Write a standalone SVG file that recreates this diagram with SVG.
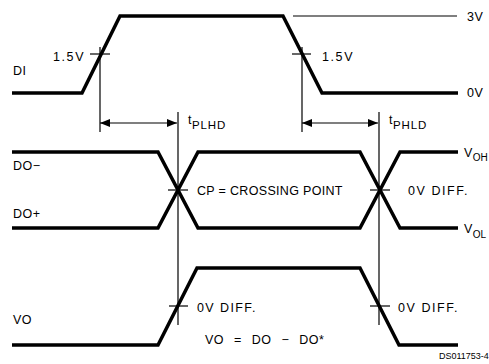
<svg xmlns="http://www.w3.org/2000/svg" width="489" height="364" viewBox="0 0 489 364">
<defs>
<marker id="ah" viewBox="0 0 10 8" refX="10" refY="4" markerWidth="10" markerHeight="8" markerUnits="userSpaceOnUse" orient="auto-start-reverse">
<path d="M0,0 L10,4 L0,8 Z" fill="#000"/>
</marker>
</defs>
<style>
.wave{fill:none;stroke:#000;stroke-width:3.5;stroke-linejoin:miter}
.thin{fill:none;stroke:#000;stroke-width:1.2}
.arr{fill:none;stroke:#000;stroke-width:1.2;marker-start:url(#ah);marker-end:url(#ah)}
text{font-family:"Liberation Sans",Arial,sans-serif;font-size:12.5px;fill:#000;letter-spacing:0.5px}
.sub{font-size:11.5px}
.vsub{font-size:10px;letter-spacing:0}
.ref{font-size:9px;letter-spacing:0}
</style>
<rect width="489" height="364" fill="#fff"/>

<g id="connectors">
<line class="thin" x1="293" y1="16" x2="457" y2="16"/>
<line class="thin" x1="100" y1="47" x2="100" y2="132"/>
<line class="thin" x1="90" y1="54" x2="110" y2="54"/>
<line class="thin" x1="302" y1="47" x2="302" y2="132"/>
<line class="thin" x1="292" y1="54" x2="311" y2="54"/>
<line class="arr" x1="100" y1="123" x2="177" y2="123"/>
<line class="arr" x1="302" y1="123" x2="378" y2="123"/>
<line class="thin" x1="178" y1="112" x2="178" y2="325"/>
<line class="thin" x1="379" y1="112" x2="379" y2="325"/>
<line class="thin" x1="168" y1="190" x2="188" y2="190"/>
<line class="thin" x1="370" y1="190" x2="390" y2="190"/>
<line class="thin" x1="169" y1="306" x2="188" y2="306"/>
<line class="thin" x1="370" y1="306" x2="390" y2="306"/>
</g>

<g id="DI">
<polyline class="wave" points="12,93 82,93 120,16 283,16 322,93 458,93"/>
<text x="13" y="75">DI</text>
<text x="53" y="61" textLength="31" lengthAdjust="spacing">1.5V</text>
<text x="322" y="61" textLength="31" lengthAdjust="spacing">1.5V</text>
<text x="467" y="21">3V</text>
<text x="467" y="97">0V</text>
</g>

<g id="tPLHD">
<text x="188" y="124">t<tspan class="sub" dy="5" letter-spacing="0.9">PLHD</tspan></text>
</g>
<g id="tPHLD">
<text x="389" y="124">t<tspan class="sub" dy="5" letter-spacing="0.9">PHLD</tspan></text>
</g>

<g id="DO">
<polyline class="wave" points="12,152 158,152 198,228 360,228 400,152 458,152"/>
<polyline class="wave" points="12,228 158,228 198,152 360,152 400,228 458,228"/>
<text x="13" y="170" letter-spacing="0">DO−</text>
<text x="13" y="218" letter-spacing="0">DO+</text>
<text x="197" y="195" textLength="146" lengthAdjust="spacing">CP = CROSSING POINT</text>
<text x="408" y="195" textLength="60" lengthAdjust="spacing">0V DIFF.</text>
<text x="464" y="157" letter-spacing="0">V<tspan class="vsub" dy="4">OH</tspan></text>
<text x="464" y="233" letter-spacing="0">V<tspan class="vsub" dy="5">OL</tspan></text>
</g>

<g id="VO">
<polyline class="wave" points="12,345 158,345 197,268 360,268 399,345 458,345"/>
<text x="13" y="324">VO</text>
<text x="197" y="311.5" textLength="59" lengthAdjust="spacing">0V DIFF.</text>
<text x="398" y="311.5" textLength="60" lengthAdjust="spacing">0V DIFF.</text>
<text x="205" y="344" style="word-spacing:6px">VO = DO − DO*</text>
</g>

<text class="ref" x="439" y="359">DS011753-4</text>
</svg>
